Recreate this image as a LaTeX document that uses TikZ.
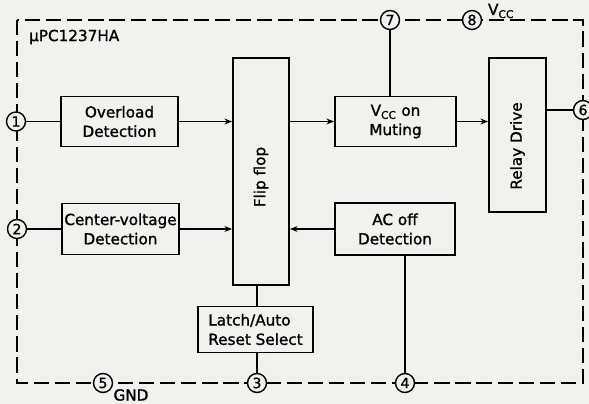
\documentclass[tikz,border=0pt]{standalone}
\usepackage{fontspec}
\setmainfont{DejaVu Sans}[FakeBold=1.2]
\usepackage{xcolor}
\usepackage{tikz}
\usetikzlibrary{arrows.meta, calc}
\definecolor{paper}{RGB}{241,241,237}
\newlength{\pxu}
\setlength{\pxu}{0.03cm}

\begin{document}
\begin{tikzpicture}[
  x=0.03cm, y=-0.03cm,
  font=\fontsize{13}{16.5}\selectfont,
  box/.style={draw, line width=1.6pt, align=center, inner sep=0pt,
              fill=paper},
  term/.style={draw, circle, line width=1.2pt, fill=paper, inner sep=0pt,
               minimum size=19\pxu, font=\fontsize{12}{12}\selectfont},
  wire/.style={line width=1.3pt},
  arr/.style={wire, -{Stealth[length=6.5pt, width=5pt]}},
  border/.style={line width=1.8pt, dash pattern=on 13pt off 5pt}
]

% Paper and frame
\path[use as bounding box, fill=paper] (0,0) rectangle (589,404);
\draw[border] (17,20) rectangle (583,383);

% Detection blocks
\node[box, minimum width=117\pxu, minimum height=50\pxu] (OVL) at (119.5,121.5)
  {Overload\\Detection};
\node[box, minimum width=117\pxu, minimum height=51\pxu] (CVD) at (120.5,229)
  {Center-voltage\\Detection};

% Flip flop (rotated: north = left side, south = right side, west = bottom)
\node[box, rotate=90, minimum width=227\pxu, minimum height=56\pxu] (FF)
  at (261,171.5) {\hspace*{-11\pxu}Flip flop};

% Latch select
\node[box, align=left, minimum width=115\pxu, minimum height=46\pxu] (LAT)
  at (255.5,329.5) {Latch/Auto\\Reset Select};

% Muting and AC off
\node[box, minimum width=121\pxu, minimum height=50\pxu] (MUT) at (395.5,121.5)
  {V\textsubscript{CC} on\\Muting};
\node[box, minimum width=120\pxu, minimum height=52\pxu] (AC) at (395,229)
  {AC off\\Detection};

% Relay drive (rotated as well)
\node[box, rotate=90, minimum width=154\pxu, minimum height=57\pxu] (REL)
  at (517.5,135) {\hspace*{-22\pxu}Relay Drive};

% Pins
\foreach \n/\x/\y in {1/16/121.5, 2/17/229, 3/257/383, 4/405/383,
                      5/103/383, 6/583/110, 7/390/20, 8/472/20}{
  \node[term] (P\n) at (\x,\y) {\n};
}

% Labels
\node[anchor=west] (CHIP) at (25,37) {µPC1237HA};
\node (VCC) at (501,11) {V\textsubscript{CC}};
\node (GND) at (131,395) {GND};

% Signal flow
\draw[wire] (P1) -- (P1 -| OVL.west);
\draw[arr] (OVL.east) -- (OVL.east -| FF.north);
\draw[wire] (P2) -- (P2 -| CVD.west);
\draw[arr] (CVD.east) -- (CVD.east -| FF.north);
\draw[arr] (MUT.west -| FF.south) -- (MUT.west);
\draw[arr] (MUT.east) -- (MUT.east -| REL.north);
\draw[arr] (AC.west) -- (AC.west -| FF.south);
\draw[wire] (P7) -- (P7 |- MUT.north);
\draw[wire] (P6) -- (P6 -| REL.south);
\draw[wire] (P4) -- (P4 |- AC.south);
\draw[wire] (P3 |- FF.west) -- (P3 |- LAT.north);
\draw[wire] (P3) -- (P3 |- LAT.south);

\end{tikzpicture}
\end{document}
